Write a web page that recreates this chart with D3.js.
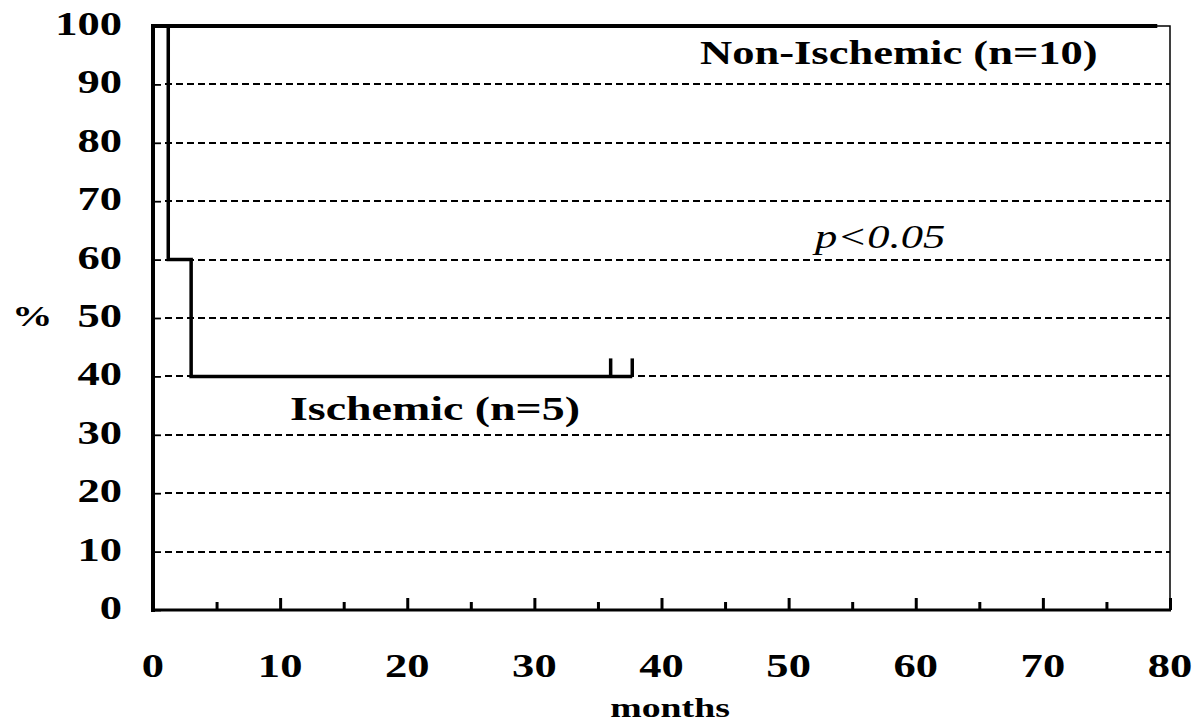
<!DOCTYPE html>
<html>
<head>
<meta charset="utf-8">
<script src="https://cdn.jsdelivr.net/npm/d3@7"></script>
<style>
  html, body { margin: 0; padding: 0; background: #fff; }
  svg { display: block; }
</style>
</head>
<body>
<svg id="chart"></svg>
<script>
// data
const monthTicks = [0, 10, 20, 30, 40, 50, 60, 70, 80];
const minorMonthTicks = [5, 15, 25, 35, 45, 55, 65, 75];
const percentTicks = [0, 10, 20, 30, 40, 50, 60, 70, 80, 90, 100];

const nonIschemicTimes = [0, 79];
const nonIschemicSurvival = [100, 100];

const ischemicTimes = [0, 1.2, 3, 37.7];
const ischemicSurvival = [100, 60, 40, 40];
const ischemicCensored = [36, 37.7];

const width = 1204, height = 724;
const stretch = 1.35; // the original picture is stretched sideways
const serif = "'Liberation Serif', 'Times New Roman', serif";

const svg = d3.select("#chart")
  .attr("width", width)
  .attr("height", height);

const x = d3.scaleLinear().domain([0, 80]).range([153, 1170]);
const y = d3.scaleLinear().domain([0, 100]).range([610, 26]);

// stretched text helper
const label = (tx, ty, str, opts = {}) => {
  svg.append("g")
    .attr("transform", `translate(${tx},${ty})`)
    .append("text")
    .attr("transform", `scale(${stretch},1)`)
    .attr("text-anchor", opts.anchor || "start")
    .style("font-family", serif)
    .style("font-size", (opts.size || 33) + "px")
    .style("font-weight", opts.weight || "bold")
    .style("font-style", opts.style || "normal")
    .style("fill", "#000")
    .text(str);
};

// dashed gridlines
svg.append("g")
  .selectAll("line")
  .data(percentTicks.filter(d => d > 0 && d < 100))
  .enter().append("line")
  .attr("x1", x(0) + 12)
  .attr("x2", x(80))
  .attr("y1", d => Math.round(y(d)))
  .attr("y2", d => Math.round(y(d)))
  .attr("stroke", "#000")
  .attr("stroke-width", 1.8)
  .attr("stroke-dasharray", "7,4");

// frame top / right (thin)
svg.append("path")
  .attr("d", `M${x(0)},${y(100)}H${x(80)}V${y(0)}`)
  .attr("fill", "none")
  .attr("stroke", "#000")
  .attr("stroke-width", 1.5);

// y axis, ticks pointing inward
svg.append("g")
  .attr("transform", `translate(${x(0)},0)`)
  .call(d3.axisRight(y).tickValues(percentTicks).tickSize(8).tickFormat(""))
  .call(g => g.select(".domain").remove())
  .call(g => g.selectAll("line").attr("stroke", "#000").attr("stroke-width", 1.8));

svg.append("line")
  .attr("x1", x(0)).attr("x2", x(0))
  .attr("y1", y(100) - 2).attr("y2", y(0) + 2)
  .attr("stroke", "#000")
  .attr("stroke-width", 4);

// x axis, ticks pointing up
svg.append("g")
  .attr("transform", `translate(0,${y(0)})`)
  .call(d3.axisTop(x).tickValues(monthTicks.slice(1)).tickSize(12).tickFormat(""))
  .call(g => g.select(".domain").remove())
  .call(g => g.selectAll("line").attr("stroke", "#000").attr("stroke-width", 3));

svg.append("g")
  .attr("transform", `translate(0,${y(0)})`)
  .call(d3.axisTop(x).tickValues(minorMonthTicks).tickSize(8).tickFormat(""))
  .call(g => g.select(".domain").remove())
  .call(g => g.selectAll("line").attr("stroke", "#000").attr("stroke-width", 3));

svg.append("line")
  .attr("x1", x(0) - 2).attr("x2", x(80) + 1)
  .attr("y1", y(0)).attr("y2", y(0))
  .attr("stroke", "#000")
  .attr("stroke-width", 3);

// survival curves
const step = d3.line()
  .x(d => x(d[0]))
  .y(d => y(d[1]))
  .curve(d3.curveStepAfter);

svg.append("path")
  .datum(d3.zip(nonIschemicTimes, nonIschemicSurvival))
  .attr("d", step)
  .attr("fill", "none")
  .attr("stroke", "#000")
  .attr("stroke-width", 4);

svg.append("path")
  .datum(d3.zip(ischemicTimes, ischemicSurvival))
  .attr("d", step)
  .attr("fill", "none")
  .attr("stroke", "#000")
  .attr("stroke-width", 3.5);

svg.selectAll(".censor")
  .data(ischemicCensored)
  .enter().append("line")
  .attr("class", "censor")
  .attr("x1", d => x(d)).attr("x2", d => x(d))
  .attr("y1", y(40)).attr("y2", y(40) - 18)
  .attr("stroke", "#000")
  .attr("stroke-width", 3.5);

// tick labels
percentTicks.forEach(d => label(122, y(d) + 9, d, { anchor: "end" }));
monthTicks.forEach(d => label(x(d), 677, d, { anchor: "middle" }));

label(12, 326, "%", { size: 30 });
label(670, 717, "months", { anchor: "middle", size: 28 });

// annotations
label(700, 64, "Non-Ischemic (n=10)");
label(290, 420, "Ischemic (n=5)", { size: 34 });
label(815, 248, "p<0.05", { weight: "normal", style: "italic" });
</script>
</body>
</html>
